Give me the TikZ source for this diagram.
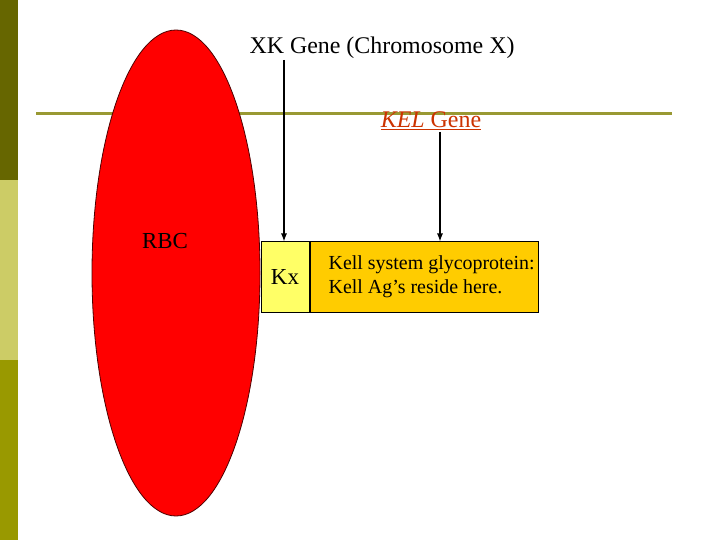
\documentclass[tikz,border=0pt]{standalone}
\usepackage{fontspec}
\setmainfont{Liberation Serif}
\usetikzlibrary{positioning}
\usetikzlibrary{arrows.meta}
\definecolor{barDark}{HTML}{666600}
\definecolor{barLight}{HTML}{CCCC66}
\definecolor{barMid}{HTML}{999900}
\definecolor{lineOlive}{HTML}{999933}
\definecolor{kelRed}{HTML}{CC3300}
\definecolor{kxYellow}{HTML}{FFFF66}
\definecolor{kellGold}{HTML}{FFCC00}

\begin{document}
\begin{tikzpicture}[x=1bp,y=-1bp,
    protbox/.style={draw=black, line width=1pt, minimum height=70bp, inner sep=0pt},
    genearrow/.style={-{Latex[length=8bp,width=6bp]}, line width=1.2pt}]
            \useasboundingbox (0,0) rectangle (720,540);
            
            % Side bars
            \fill[barDark] (0,0) rectangle (18,180);
            \fill[barLight] (0,180) rectangle (18,360);
            \fill[barMid] (0,360) rectangle (18,540);
            
            % Membrane line
            \coordinate (lineL) at (36,114);
            \coordinate (lineR) at (672,114);
            \draw[lineOlive, line width=3bp] (lineL) -- (lineR);
            
            % Red cell
            \draw[fill=red, draw=black!70!red, line width=0.8pt] (176,273) ellipse (84 and 243);
            \node (rbc) at (165,241) {\fontsize{23}{26}\selectfont RBC};
            
            % Proteins
            \node[protbox, fill=kxYellow, minimum width=48bp, anchor=north west] (kx) at (260.5,241.5)
                {\fontsize{23}{26}\selectfont Kx};
            \node[protbox, fill=kellGold, minimum width=228bp, anchor=north west] (kell) at (kx.north east) {};
            \node[anchor=west, align=left, inner sep=0pt, font=\fontsize{20}{24}\selectfont,
                  right=19bp of kell.west] (kelltext)
                {Kell system glycoprotein:\\Kell Ag’s reside here.};
            
            % Gene labels
            \node (xk) at (382,48) {\fontsize{24}{28}\selectfont XK Gene (Chromosome X)};
            \node[kelRed] (kel) at (431,121) {\fontsize{24}{28}\selectfont\underline{\textit{KEL} Gene}};
            
            % Arrows
            \draw[genearrow] (284,60) -- (kx.north -| 284,0);
            \draw[genearrow] (440,132) -- (kell.north -| 440,0);
            
        \end{tikzpicture}
\end{document}
